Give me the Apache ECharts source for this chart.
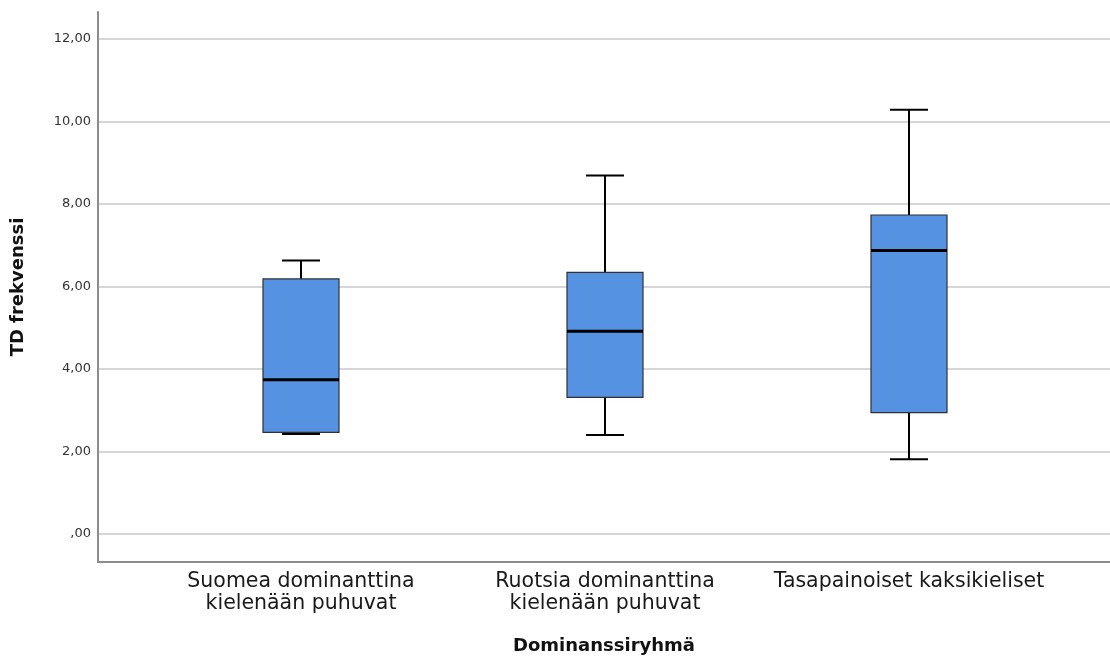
<!DOCTYPE html>
<html>
<head>
<meta charset="utf-8">
<script src="https://cdn.jsdelivr.net/npm/echarts@6/dist/echarts.min.js"></script>
<style>
  html, body { margin: 0; padding: 0; background: #fff; }
  #main { width: 1110px; height: 657px; }
</style>
</head>
<body>
<div id="main"></div>
<script>
// ryhmät
const categories = ['Suomea dominanttina\nkielenään puhuvat', 'Ruotsia dominanttina\nkielenään puhuvat', 'Tasapainoiset kaksikieliset'];
// laatikon arvot (luettu kuvasta)
const minVals = [2.42, 2.40, 1.81];
const q1Vals  = [2.46, 3.31, 2.94];
const medVals = [3.74, 4.91, 6.87];
const q3Vals  = [6.18, 6.34, 7.73];
const maxVals = [6.63, 8.69, 10.28];
const yTicks = [0, 2, 4, 6, 8, 10, 12];

const yMin = -0.68, yMax = 12.65;
const fontFam = '"DejaVu Sans", sans-serif';

let boxData = categories.map(function (c, i) {
    return [i, minVals[i], q1Vals[i], medVals[i], q3Vals[i], maxVals[i]];
});

function renderBox(params, api) {
    let x = api.value(0);
    let pMin = api.coord([x, api.value(1)]);
    let pQ1 = api.coord([x, api.value(2)]);
    let pMed = api.coord([x, api.value(3)]);
    let pQ3 = api.coord([x, api.value(4)]);
    let pMax = api.coord([x, api.value(5)]);
    let band = api.size([1, 0])[0];
    let bw = band * 0.25;   // laatikon leveys
    let cw = bw * 0.5;      // viiksien päät
    let cx = pMed[0];
    let lineStyle = { stroke: '#000', lineWidth: 2 };
    return {
        type: 'group',
        children: [
            { type: 'line', shape: { x1: cx, y1: pMax[1], x2: cx, y2: pQ3[1] }, style: lineStyle },
            { type: 'line', shape: { x1: cx, y1: pQ1[1], x2: cx, y2: pMin[1] }, style: lineStyle },
            { type: 'line', shape: { x1: cx - cw / 2, y1: pMax[1], x2: cx + cw / 2, y2: pMax[1] }, style: lineStyle },
            { type: 'line', shape: { x1: cx - cw / 2, y1: pMin[1], x2: cx + cw / 2, y2: pMin[1] }, style: lineStyle },
            {
                type: 'rect',
                shape: { x: cx - bw / 2, y: pQ3[1], width: bw, height: pQ1[1] - pQ3[1] },
                style: { fill: '#5592e2', stroke: '#2e3136', lineWidth: 1.2 }
            },
            { type: 'line', shape: { x1: cx - bw / 2, y1: pMed[1], x2: cx + bw / 2, y2: pMed[1] }, style: { stroke: '#000', lineWidth: 3 } }
        ]
    };
}

let chart = echarts.init(document.getElementById('main'));
let option = {
    animation: false,
    backgroundColor: '#fff',
    grid: [
        { left: 98, right: 0, top: 39, bottom: 123, outerBoundsMode: 'none' },   // gridlines 0..12
        { left: 98, right: 0, top: 12, bottom: 95, outerBoundsMode: 'none' },    // akselit
        { left: 149, right: 49, top: 12, bottom: 95, outerBoundsMode: 'none' }   // laatikot
    ],
    xAxis: [
        { gridIndex: 0, type: 'value', show: false, min: 0, max: 1 },
        {
            gridIndex: 1, type: 'value', min: 0, max: 1,
            axisLine: { show: true, onZero: false, lineStyle: { color: '#8c8c8c', width: 2 } },
            axisTick: { show: false }, axisLabel: { show: false }, splitLine: { show: false },
            name: 'Dominanssiryhmä', nameLocation: 'middle', nameGap: 75,
            nameTextStyle: { fontFamily: fontFam, fontSize: 18, fontWeight: 'bold', color: '#111' }
        },
        {
            gridIndex: 2, type: 'category', data: categories,
            axisLine: { show: false }, axisTick: { show: false },
            axisLabel: { interval: 0, hideOverlap: false, margin: 9, fontFamily: fontFam, fontSize: 20.5, color: '#1a1a1a', lineHeight: 22 }
        }
    ],
    yAxis: [
        {
            gridIndex: 0, type: 'value', min: yTicks[0], max: yTicks[yTicks.length - 1], interval: 2,
            axisLine: { show: false }, axisTick: { show: false },
            axisLabel: {
                margin: 7, fontFamily: fontFam, fontSize: 13, color: '#333',
                formatter: function (v) { return v === 0 ? ',00' : v.toFixed(2).replace('.', ','); }
            },
            splitLine: { show: true, lineStyle: { color: '#c9c9c9', width: 1.5 } }
        },
        {
            gridIndex: 1, type: 'value', min: yMin, max: yMax,
            axisLine: { show: true, onZero: false, lineStyle: { color: '#8c8c8c', width: 2 } },
            axisTick: { show: false }, axisLabel: { show: false }, splitLine: { show: false },
            name: 'TD frekvenssi', nameLocation: 'middle', nameGap: 71, nameRotate: 90,
            nameTextStyle: { fontFamily: fontFam, fontSize: 18, fontWeight: 'bold', color: '#111' }
        },
        { gridIndex: 2, type: 'value', min: yMin, max: yMax, show: false }
    ],
    series: [
        {
            type: 'custom',
            xAxisIndex: 2,
            yAxisIndex: 2,
            data: boxData,
            encode: { x: 0, y: [1, 2, 3, 4, 5] },
            renderItem: renderBox,
            z: 5
        }
    ]
};
chart.setOption(option);
</script>
</body>
</html>
